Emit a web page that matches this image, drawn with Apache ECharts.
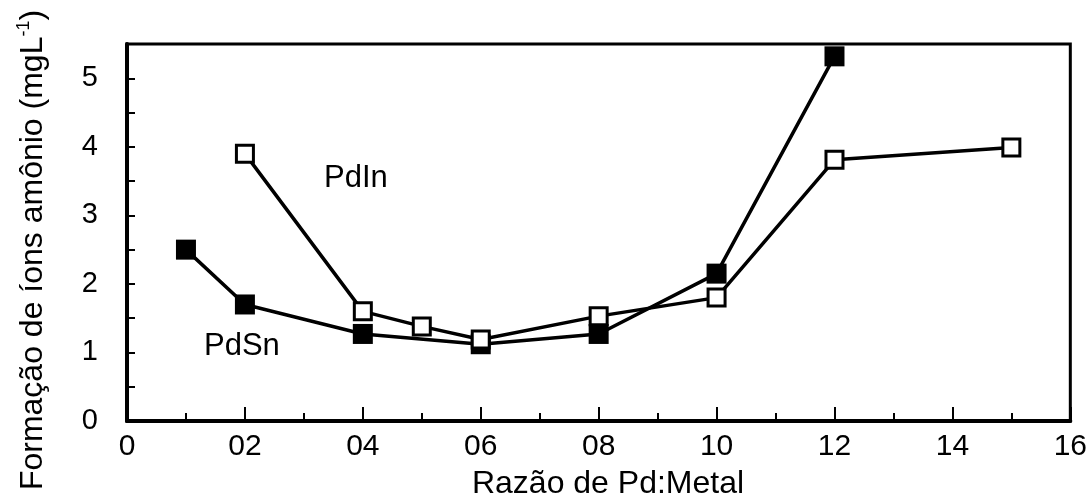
<!DOCTYPE html>
<html>
<head>
<meta charset="utf-8">
<script src="https://cdn.jsdelivr.net/npm/echarts@6/dist/echarts.min.js"></script>
<style>
  html, body { margin: 0; padding: 0; background: #fff; }
  #chart { width: 1090px; height: 502px; }
</style>
</head>
<body>
<div id="chart"></div>
<script>
// Razão Pd:Metal (x) vs. formação de íons amônio (mg/L)
const pdSnX = [1, 2, 4, 6, 8, 10, 12];
const pdSnY = [2.5, 1.70, 1.27, 1.12, 1.27, 2.15, 5.32];

const pdInX = [2, 4, 5, 6, 8, 10, 12, 15];
const pdInY = [3.90, 1.60, 1.38, 1.19, 1.53, 1.80, 3.81, 3.99];

const xTickLabels = ['0', '02', '04', '06', '08', '10', '12', '14', '16'];
const yTickLabels = ['0', '1', '2', '3', '4', '5'];

const FONT = '"Liberation Sans", Arial, sans-serif';

function pairs(xs, ys) { return xs.map((x, i) => [x, ys[i]]); }

const chart = echarts.init(document.getElementById('chart'));

chart.setOption({
  animation: false,
  backgroundColor: '#ffffff',
  grid: {
    left: 127, right: 17, top: 44, bottom: 81,
    show: true, borderColor: '#000', borderWidth: 3, backgroundColor: 'transparent'
  },
  xAxis: {
    type: 'value', min: 0, max: 16, interval: 2,
    axisLine: { lineStyle: { color: '#000', width: 4 } },
    axisTick: { inside: true, length: 14, lineStyle: { color: '#000', width: 2 } },
    minorTick: { show: true, splitNumber: 2, length: 8, lineStyle: { color: '#000', width: 2 } },
    splitLine: { show: false },
    axisLabel: {
      color: '#000', fontSize: 30, fontFamily: FONT, margin: 11,
      formatter: v => xTickLabels[Math.round(v / 2)]
    }
  },
  yAxis: {
    type: 'value', min: 0, max: 5.5, interval: 0.5,
    axisLine: { lineStyle: { color: '#000', width: 4 } },
    axisTick: { inside: true, length: 8, lineStyle: { color: '#000', width: 2 } },
    splitLine: { show: false },
    axisLabel: {
      color: '#000', fontSize: 29, fontFamily: FONT, margin: 29,
      formatter: v => (Math.abs(v - Math.round(v)) < 1e-6 && v <= 5) ? yTickLabels[Math.round(v)] : ''
    }
  },
  series: [
    {
      name: 'PdSn', type: 'line', data: pairs(pdSnX, pdSnY),
      symbol: 'rect', symbolSize: 20,
      lineStyle: { color: '#000', width: 3.5 },
      itemStyle: { color: '#000', borderColor: '#000', borderWidth: 0 },
      z: 2
    },
    {
      name: 'PdIn', type: 'line', data: pairs(pdInX, pdInY),
      symbol: 'rect', symbolSize: 17,
      lineStyle: { color: '#000', width: 3.5 },
      itemStyle: { color: '#fff', borderColor: '#000', borderWidth: 3 },
      z: 3
    }
  ],
  graphic: [
    // x-axis title
    {
      type: 'text', x: 608, y: 484,
      style: { text: 'Razão de Pd:Metal', align: 'center', verticalAlign: 'middle',
               fontSize: 32, fontFamily: FONT, fill: '#000' }
    },
    // y-axis title, rotated to read bottom-to-top
    {
      type: 'text', x: 33, y: 250, rotation: Math.PI / 2,
      style: {
        text: '{t|Formação de íons amônio (mgL}{s|-1}{t|)}',
        align: 'center', verticalAlign: 'middle', fill: '#000',
        rich: {
          t: { fontSize: 32, fontFamily: FONT, fill: '#000', lineHeight: 36 },
          s: { fontSize: 18, fontFamily: FONT, fill: '#000', verticalAlign: 'top', lineHeight: 36, padding: [0, 0, 15, 0] }
        }
      }
    },
    { type: 'text', left: 324, top: 163, style: { text: 'PdIn', fontSize: 31, fontFamily: FONT, fill: '#000' } },
    { type: 'text', left: 204, top: 331, style: { text: 'PdSn', fontSize: 31, fontFamily: FONT, fill: '#000' } }
  ]
});
</script>
</body>
</html>
